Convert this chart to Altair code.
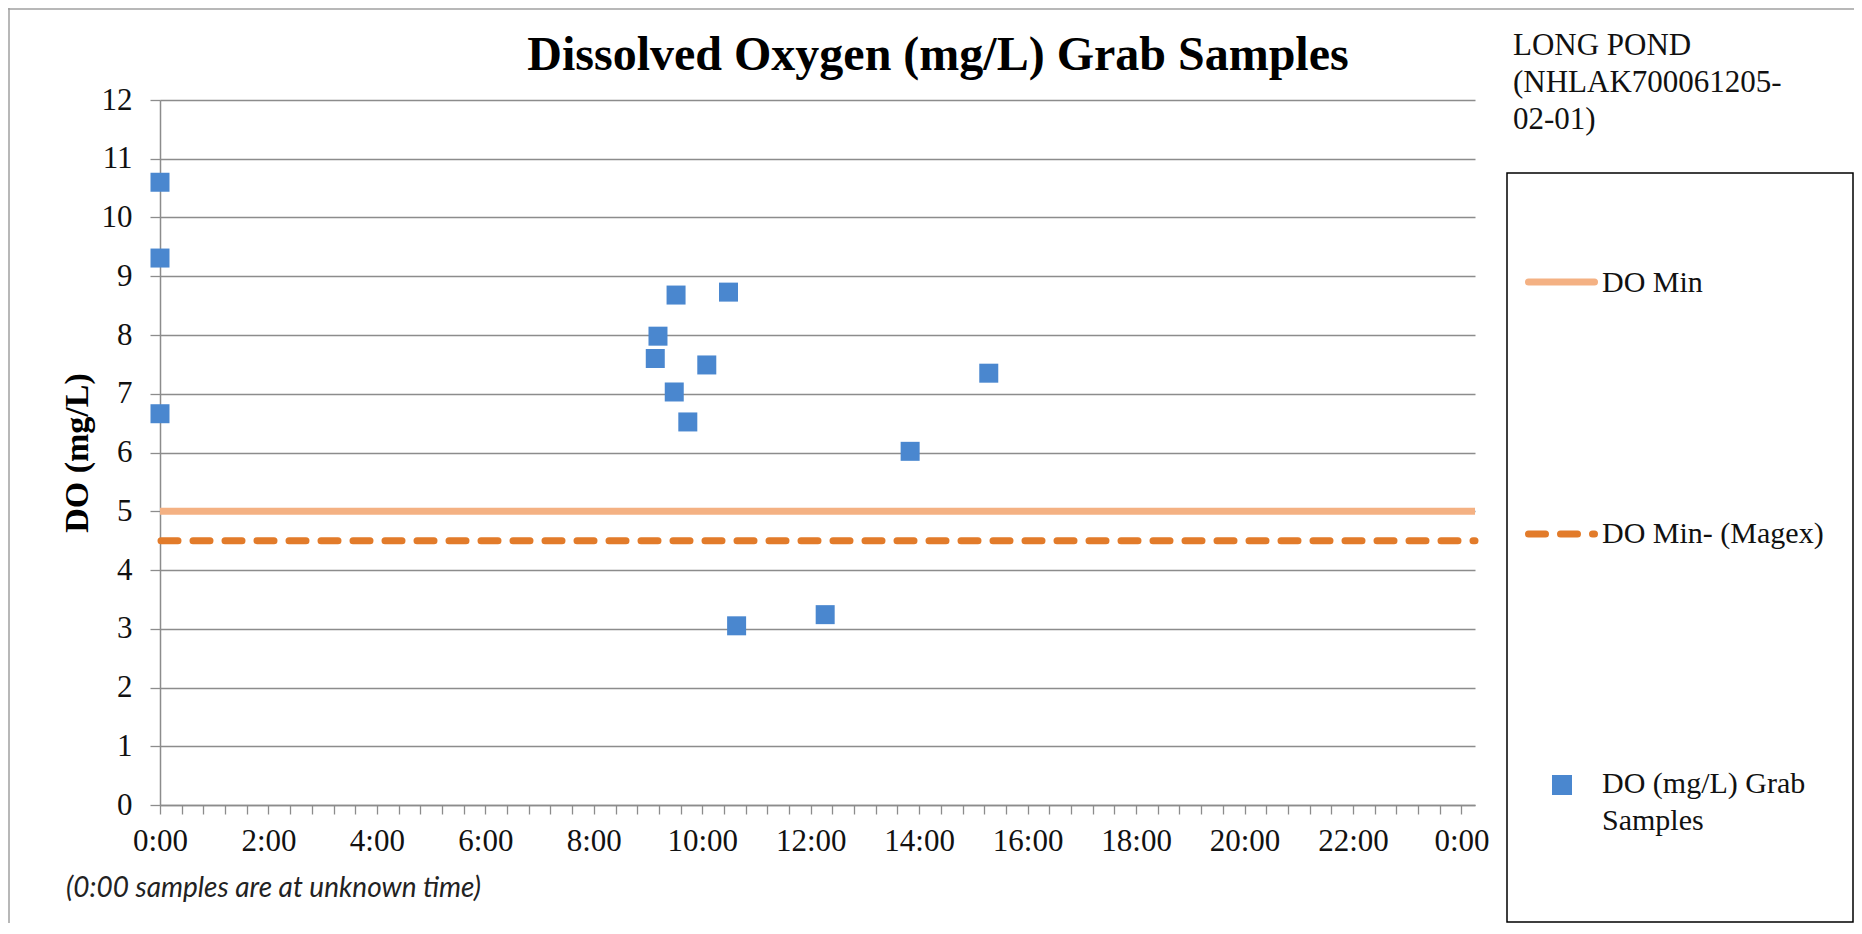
import altair as alt
import pandas as pd

# ---------------- data ----------------
sample_times = ["0:00", "0:00", "0:00", "9:08", "9:11", "9:29", "9:31", "9:44",
                "10:05", "10:29", "10:38", "12:16", "13:50", "15:17"]
sample_do = [10.60, 9.31, 6.66, 7.60, 7.98, 7.03, 8.68, 6.52,
             7.49, 8.73, 3.05, 3.24, 6.02, 7.35]

threshold_names = ["DO Min", "DO Min- (Magex)"]
threshold_values = [5.0, 4.5]

y_tick_values = list(range(0, 13))
x_tick_hours = [round(i * 0.4, 1) for i in range(61)]  # ticks every 24 min, labels every 2 h

title_text = "Dissolved Oxygen (mg/L) Grab Samples"
site_lines = ["LONG POND", "(NHLAK700061205-", "02-01)"]
footnote_text = "(0:00 samples are at unknown time)"
legend_labels = ["DO Min", "DO Min- (Magex)", ["DO (mg/L) Grab", "Samples"]]

# ---------------- styles ----------------
BLUE = "#4A87CF"
LIGHT_ORANGE = "#F4B183"
DARK_ORANGE = "#E27B2A"
GRAY = "#8C8C8C"
SERIF = "Liberation Serif, 'Times New Roman', Times, 'DejaVu Serif', serif"

def to_hours(t):
    h, m = t.split(":")
    return int(h) + int(m) / 60.0

points = pd.DataFrame({"hours": [to_hours(t) for t in sample_times], "do": sample_do})
thresholds = pd.DataFrame({"name": threshold_names, "do": threshold_values})
one = pd.DataFrame({"k": [0]})

x_scale = alt.Scale(domain=[0, 24.25], nice=False, zero=False)
y_scale = alt.Scale(domain=[0, 12], nice=False)

x_axis = alt.Axis(
    values=x_tick_hours,
    labelExpr="abs(datum.value/2 - round(datum.value/2)) < 0.001 ? (round(datum.value) % 24) + ':00' : ''",
    grid=False, tickSize=9, tickColor=GRAY, tickWidth=1.3,
    domainColor=GRAY, domainWidth=1.5,
    labelFont=SERIF, labelFontSize=31, labelColor="#111111", labelPadding=12,
    labelOverlap=False, labelFlush=False,
)
y_axis = alt.Axis(
    values=y_tick_values, grid=True, gridColor=GRAY, gridWidth=1.3,
    tickSize=10, tickColor=GRAY, tickWidth=1.3,
    domainColor=GRAY, domainWidth=1.5,
    labelFont=SERIF, labelFontSize=31, labelColor="#111111", labelPadding=18,
    labelOverlap=False,
    titleFont=SERIF, titleFontSize=34, titleFontWeight="bold", titleColor="#000000",
    titlePadding=7,
)

x_enc = alt.X("hours:Q", scale=x_scale, axis=x_axis, title=None)
y_enc = alt.Y("do:Q", scale=y_scale, axis=y_axis, title="DO (mg/L)")

solid = alt.Chart(thresholds).transform_filter(
    alt.datum.name == threshold_names[0]
).mark_rule(color=LIGHT_ORANGE, strokeWidth=7).encode(y=y_enc)

dashed = alt.Chart(thresholds).transform_filter(
    alt.datum.name == threshold_names[1]
).mark_rule(color=DARK_ORANGE, strokeWidth=7, strokeDash=[17, 15],
            strokeDashOffset=15, strokeCap="round").encode(y=y_enc)

pts = alt.Chart(points).mark_square(size=361, color=BLUE, opacity=1).encode(x=x_enc, y=y_enc)

# ---------------- annotations (plot-area pixel coordinates) ----------------
title = alt.Chart(one).mark_text(
    text=title_text, font=SERIF, fontSize=48, fontWeight="bold", color="#000000",
    align="center", baseline="alphabetic"
).encode(x=alt.value(778), y=alt.value(-30))

site = alt.Chart(one).mark_text(
    text=site_lines, font=SERIF, fontSize=31, color="#111111", lineHeight=37,
    align="left", baseline="alphabetic"
).encode(x=alt.value(1353), y=alt.value(-45))

footnote = alt.Chart(one).mark_text(
    text=footnote_text, font="Lato", fontStyle="italic", fontSize=28, color="#222222",
    align="left", baseline="alphabetic"
).encode(x=alt.value(-94), y=alt.value(797))

border_left = alt.Chart(one).mark_rule(color="#A0A0A0", strokeWidth=1.5).encode(
    x=alt.value(-151), y=alt.value(-92), y2=alt.value(823))
border_top = alt.Chart(one).mark_rule(color="#A0A0A0", strokeWidth=1.5).encode(
    x=alt.value(-152), x2=alt.value(1694), y=alt.value(-91))

legend_box = alt.Chart(one).mark_rect(
    fillOpacity=0, stroke="#000000", strokeWidth=1.5
).encode(x=alt.value(1347), x2=alt.value(1693), y=alt.value(73), y2=alt.value(822))

leg_solid = alt.Chart(one).mark_rule(color=LIGHT_ORANGE, strokeWidth=7, strokeCap="round").encode(
    x=alt.value(1368.5), x2=alt.value(1434.5), y=alt.value(182))
leg_dashed = alt.Chart(one).mark_rule(color=DARK_ORANGE, strokeWidth=7, strokeCap="round",
                                      strokeDash=[17, 15]).encode(
    x=alt.value(1368.5), x2=alt.value(1434.5), y=alt.value(434))
leg_square = alt.Chart(one).mark_square(size=400, color=BLUE, opacity=1).encode(
    x=alt.value(1402), y=alt.value(685))

def leg_text(txt, y):
    return alt.Chart(one).mark_text(
        text=txt, font=SERIF, fontSize=30, color="#111111", lineHeight=37,
        align="left", baseline="alphabetic"
    ).encode(x=alt.value(1442), y=alt.value(y))

leg_t1 = leg_text(legend_labels[0], 192)
leg_t2 = leg_text(legend_labels[1], 443)
leg_t3 = leg_text(legend_labels[2], 693)

chart = alt.layer(
    solid, dashed, pts,
    title, site, footnote, border_left, border_top,
    legend_box, leg_solid, leg_dashed, leg_square, leg_t1, leg_t2, leg_t3,
).properties(
    width=1315, height=705,
    padding={"left": 152, "top": 92, "right": 379, "bottom": 119},
    autosize=alt.AutoSizeParams(type="none"),
    background="white",
).configure_view(stroke=None)

chart.save("out.html", embed_options={"renderer": "svg", "actions": False})
